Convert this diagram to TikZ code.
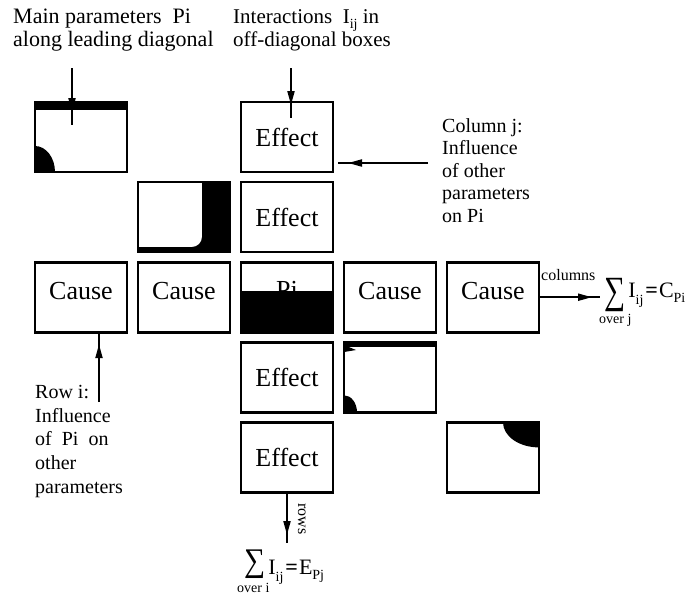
\documentclass[tikz,border=0pt]{standalone}
\usepackage{fontspec}
\setmainfont{Liberation Serif}
\usetikzlibrary{arrows.meta,decorations.markings,calc}
\newcommand{\bigsum}[2]{\raisebox{#1}{\scalebox{1.35}[#2]{∑}}}
\newcommand{\lowsub}[2]{\raisebox{#1}{\fontsize{14}{14}\selectfont #2}}
\begin{document}
\begin{tikzpicture}[x=1pt,y=-1pt,
  cell/.style={draw, line width=2.6pt, minimum width=92pt, minimum height=70pt,
    inner sep=0pt, outer sep=0pt, font=\fontsize{26}{26}\selectfont},
  lbl/.style={anchor=north west, inner sep=0pt, align=left},
  arr/.style={line width=2pt, postaction={decorate},
    decoration={markings, mark=at position #1 with {\arrow{Triangle[length=14pt,width=7pt]}}}},
  sumtext/.style={anchor=base west, inner sep=0pt, font=\fontsize{22}{22}\selectfont},
  small/.style={anchor=base west, inner sep=0pt, font=\fontsize{14}{14}\selectfont}
]
\useasboundingbox (0,0) rectangle (689,595);

% grid of cells
\node[cell] (b11) at (81,137) {};
\node[cell] (b13) at (287,137) {Effect};
\node[cell] (b22) at (184,217.1) {};
\node[cell] (b23) at (287,217.1) {Effect};
\node[cell] (b31) at (81,297.2) {\raisebox{6pt}[\height][\depth]{Cause}};
\node[cell] (b32) at (184,297.2) {\raisebox{6pt}[\height][\depth]{Cause}};
\node[cell] (b33) at (287,297.2) {\raisebox{7pt}[\height][\depth]{Pi}};
\node[cell] (b34) at (390,297.2) {\raisebox{6pt}[\height][\depth]{Cause}};
\node[cell] (b35) at (493,297.2) {\raisebox{6pt}[\height][\depth]{Cause}};
\node[cell] (b43) at (287,377.3) {Effect};
\node[cell] (b44) at (390,377.3) {};
\node[cell] (b53) at (287,457.4) {Effect};
\node[cell] (b55) at (493,457.4) {};

% black fills
\fill (35,102) rectangle (127,110);
\fill (35,146) .. controls (46,146) and (55,157.6) .. (55,172) -- (35,172) -- cycle;
\fill (202,182.1) -- (230,182.1) -- (230,252.1) -- (138,252.1) -- (138,247) -- (192,247)
      .. controls (197.5,247) and (202,242.5) .. (202,237) -- cycle;
\fill (241,291) rectangle (333,332.2);
\fill (344,342.3) rectangle (436,346.5);
\fill (344,345) -- (356,350) -- (344,352) -- cycle;
\fill (344,395.3) .. controls (351.2,395.3) and (357,402.9) .. (357,412.3) -- (344,412.3) -- cycle;
\fill (503,422.4) .. controls (503,436.2) and (519.1,447.4) .. (539,447.4) -- (539,422.4) -- cycle;

% labels
\node[lbl, font=\fontsize{22}{22.5}\selectfont] (lmain) at (13,9)
  {Main parameters\ \ Pi\\along leading diagonal};
\node[lbl, font=\fontsize{21}{22.5}\selectfont] (linter) at (233,9)
  {Interactions\ \ I\lowsub{-5pt}{ij} in\\off-diagonal boxes};
\node[lbl, font=\fontsize{20}{22.5}\selectfont] (lcol) at (442,118)
  {Column j:\\Influence\\of other\\parameters\\on Pi};
\node[lbl, font=\fontsize{20}{23.7}\selectfont] (lrow) at (35,385)
  {Row i:\\Influence\\of\ \ Pi\ \ on\\other\\parameters};

% arrows
\coordinate (m1) at (72,68);
\coordinate (m1e) at (72,125);
\draw[arr=-13pt] (m1) -- (m1e);
\coordinate (m2) at (291,68);
\coordinate (m2e) at (291,118);
\draw[arr=-13pt] (m2) -- (m2e);
\coordinate (m3) at (428,163);
\coordinate (m3e) at (338,163);
\draw[arr=-10pt] (m3) -- (m3e);
\coordinate (m4) at (99,402);
\draw[arr=-12pt] (m4) -- (m4 |- b31.south);
\coordinate (m5e) at (600,297.2);
\draw[arr=-8pt] (b35.east) -- (m5e);
\coordinate (m6e) at (287,543);
\draw[arr=-8pt] (b53.south) -- (m6e);

% arrow labels
\node[anchor=base west, inner sep=0pt, font=\fontsize{16}{16}\selectfont] (lcolumns) at (541,280) {columns};
\node[anchor=base west, inner sep=0pt, rotate=-90, font=\fontsize{16}{16}\selectfont] (lrows) at (298,503) {rows};

% sums
\node[sumtext] (sumC) at (604,297.5)
  {\bigsum{-6pt}{1.75}\kern3pt I\lowsub{-7pt}{ij}\kern2pt\textbf{=}\kern1pt C\lowsub{-5pt}{Pi}};
\node[small] (overj) at (599,323) {over j};
\node[sumtext] (sumE) at (244,574)
  {\bigsum{3pt}{1.5}\kern3pt I\lowsub{-7pt}{ij}\kern2pt\textbf{=}\kern1pt E\lowsub{-5pt}{Pj}};
\node[small] (overi) at (237,592) {over i};
\end{tikzpicture}
\end{document}
